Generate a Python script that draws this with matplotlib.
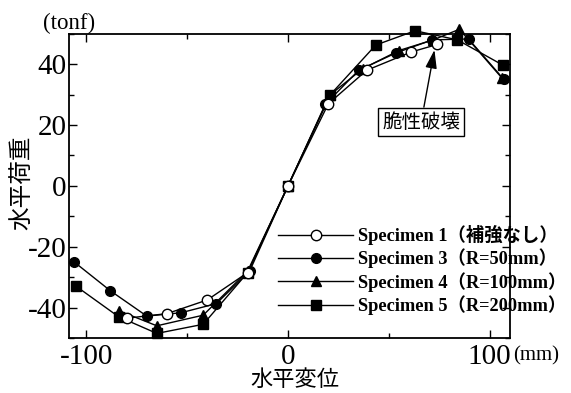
import matplotlib
matplotlib.use("Agg")
from matplotlib import pyplot as plt
from matplotlib.ticker import MultipleLocator

plt.rcParams['font.family'] = ['Liberation Serif', 'Noto Sans CJK JP']
plt.rcParams['axes.unicode_minus'] = False

# Horizontal displacement (mm) and horizontal load (tonf) per specimen
spec1_x = [-80, -60, -40, -20, 0, 20, 39, 61, 74]
spec1_y = [-43.5, -42, -37.5, -28.5, 0, 27, 38, 44, 46.5]

spec3_x = [-106, -88, -70, -53, -35.5, -19, 0, 18.5, 35, 53.5, 71.5, 89.5, 107]
spec3_y = [-25, -34.5, -42.8, -41.7, -38.7, -28, 0, 26.8, 38, 43.7, 48, 48.3, 35]

spec4_x = [-84, -65, -42, -20, 0, 21, 37, 55, 72, 85, 106]
spec4_y = [-41, -46, -42.5, -28, 0, 30, 38.5, 44.5, 48, 51.5, 35.5]

spec5_x = [-105, -84, -65, -42, -20, 0, 21, 43.5, 63, 84, 106.5]
spec5_y = [-33, -43, -48.5, -45.5, -28.5, 0, 30, 46.3, 51, 48, 39.7]

labels = ["Specimen 1（補強なし）", "Specimen 3（R=50mm）",
          "Specimen 4（R=100mm）", "Specimen 5（R=200mm）"]

fig = plt.figure(figsize=(5.71, 3.93), dpi=100)
ax = fig.add_axes([0.121, 0.140, 0.772, 0.774])

common = dict(color='black', linewidth=1.0, clip_on=False)
h1, = ax.plot(spec1_x, spec1_y, marker='o', markersize=7.5, markerfacecolor='white',
              markeredgecolor='black', markeredgewidth=1.0, zorder=5, label=labels[0], **common)
h3, = ax.plot(spec3_x, spec3_y, marker='o', markersize=7, markerfacecolor='black',
              zorder=4, label=labels[1], **common)
h4, = ax.plot(spec4_x, spec4_y, marker='^', markersize=7.5, markerfacecolor='black',
              zorder=3, label=labels[2], **common)
h5, = ax.plot(spec5_x, spec5_y, marker='s', markersize=7, markerfacecolor='black',
              zorder=2, label=labels[3], **common)

ax.set_xlim(-108.5, 110)
ax.set_ylim(-50, 50)
ax.xaxis.set_major_locator(MultipleLocator(100))
ax.xaxis.set_minor_locator(MultipleLocator(50))
ax.yaxis.set_major_locator(MultipleLocator(20))
ax.yaxis.set_minor_locator(MultipleLocator(10))
ax.tick_params(which='both', direction='in', top=True, right=True, width=1.0)
ax.tick_params(which='major', length=6, labelsize=21, pad=2)
ax.tick_params(which='minor', length=3.5)
ax.tick_params(axis='x', which='major', pad=4)
for s in ax.spines.values():
    s.set_linewidth(1.3)

leg = ax.legend(handles=[h1, h3, h4, h5], loc='upper left',
                bbox_to_anchor=(278 / 571, 1 - 225 / 393), bbox_transform=fig.transFigure,
                frameon=False, fontsize=13.2, handlelength=4.1, handletextpad=0.25,
                labelspacing=0.2, borderpad=0, borderaxespad=0)
for t in leg.get_texts():
    t.set_fontweight('bold')

ax.annotate('脆性破壊', xy=(72.6, 44.7), xytext=(66, 21),
            ha='center', va='center', fontsize=14, family=['Noto Sans CJK JP'],
            bbox=dict(boxstyle='square,pad=0.2', facecolor='white', edgecolor='black', linewidth=1.0),
            arrowprops=dict(arrowstyle='-|>,head_length=0.8,head_width=0.25', color='black',
                            linewidth=1.0, shrinkA=0, shrinkB=0))

fig.text(43 / 571, 1 - 23.5 / 393, '(tonf)', fontsize=16.5, ha='left', va='center')
fig.text(513 / 571, 1 - 356 / 393, '(mm)', fontsize=15, ha='left', va='center')
fig.text(295 / 571, 1 - 379 / 393, '水平変位', fontsize=16, ha='center', va='center',
         family=['Noto Sans CJK JP'])
fig.text(22 / 571, 1 - 183 / 393, '水平荷重', fontsize=17, ha='center', va='center',
         rotation=90, family=['Noto Sans CJK JP'])

fig.savefig('out.png', dpi=100)
